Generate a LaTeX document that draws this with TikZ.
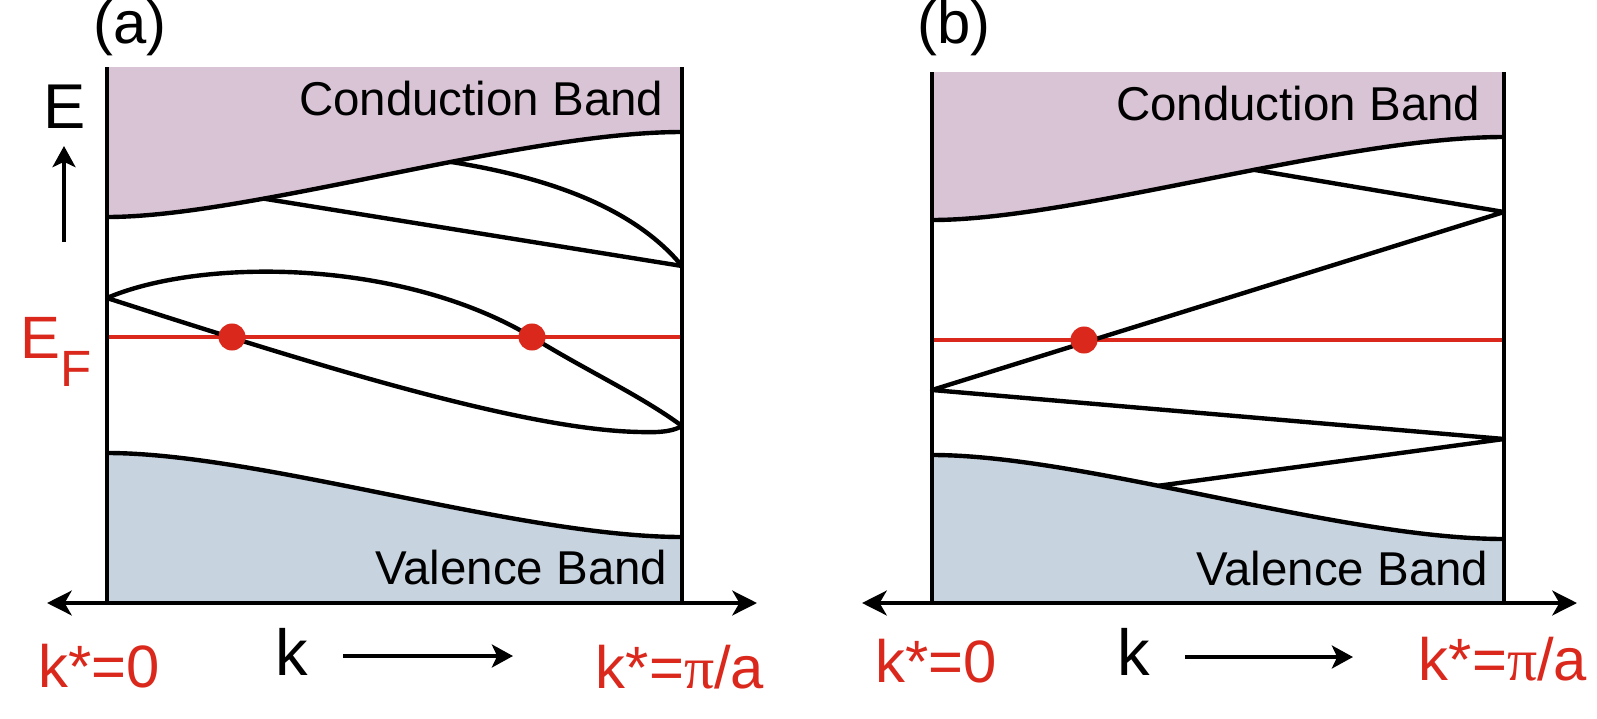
\documentclass[tikz,border=0pt]{standalone}
\usepackage{fontspec}
\setmainfont{Liberation Sans}
\newfontfamily\pifont{Liberation Serif}
\usetikzlibrary{arrows.meta}
\definecolor{condband}{RGB}{217,196,214}
\definecolor{valband}{RGB}{200,211,224}
\definecolor{fermired}{RGB}{218,41,28}

\begin{document}
\begin{tikzpicture}[x=0.01cm,y=-0.01cm,
  band/.style={line width=1.25pt,line join=round},
  fermi/.style={line width=1.2pt,draw=fermired},
  kaxis/.style={line width=1.3pt,{Stealth[length=7pt,width=7pt,inset=2pt]}-{Stealth[length=7pt,width=7pt,inset=2pt]}},
  plain arrow/.style={line width=1.2pt,-{Stealth[length=6pt,width=6.5pt,inset=1.5pt]}},
  bandname/.style={font=\fontsize{13.5}{16}\selectfont,anchor=base east,inner sep=0pt},
  big/.style={font=\fontsize{17}{20}\selectfont,inner sep=0pt},
  redlbl/.style={big,text=fermired,anchor=base},
  fdot/.style={circle,fill=fermired,minimum size=0.27cm,inner sep=0pt}]
\useasboundingbox (0,0) rectangle (1597,718);

% ---------- (a) ----------
\fill[condband] (107,67) -- (107,217) .. controls (250,217) and (520,132) .. (682,132) -- (682,67) -- cycle;
\fill[valband] (107,603) -- (107,453) .. controls (260,453) and (520,537) .. (682,537) -- (682,603) -- cycle;
\draw[band] (107,217) .. controls (250,217) and (520,132) .. (682,132)
  coordinate[pos=0.3] (ca1) coordinate[pos=0.6] (ca2);
\draw[band] (107,453) .. controls (260,453) and (520,537) .. (682,537);
\coordinate (la) at (107,298);
\coordinate (ra1) at (682,266);
\coordinate (ra2) at (682,426);
\draw[fermi] (107,337) -- (682,337);
\draw[band] (ca1) -- (ra1);
\draw[band] (ca2) .. controls (565,180) and (640,215) .. (ra1);
\draw[band] (la) .. controls (200,258) and (400,258) .. (532,337)
  .. controls (585,370) and (640,395) .. (ra2);
\draw[band] (la) .. controls (300,360) and (520,430) .. (640,432)
  .. controls (665,433) and (675,430) .. (ra2);
\node[fdot] (fa1) at (232,337) {};
\node[fdot] (fa2) at (532,337) {};
\draw[band] (107,67) -- (107,603);
\draw[band] (682,67) -- (682,603);
\draw[kaxis] (47,603) -- (757,603);
\node[bandname] (cba) at (664,115) {Conduction Band};
\node[bandname] (vba) at (668,584) {Valence Band};
\node[big] (taga) at (130,28) {(a)};
\node[big,anchor=base,font=\fontsize{18}{20}\selectfont] (ea) at (65,128) {E};
\coordinate (eat) at (64,146);
\coordinate (eab) at (64,242);
\draw[plain arrow] (eab) -- (eat);
\node[redlbl,anchor=base west] (efa) at (20,358) {E\raisebox{-8pt}{\fontsize{14.5}{14.5}\selectfont F}};
\node[redlbl] (k0a) at (99,687) {k*=0};
\node[big,anchor=base,font=\fontsize{18.5}{20}\selectfont] (ka) at (292,675) {k};
\coordinate (kal) at (343,656);
\coordinate (kar) at (513,656);
\draw[plain arrow] (kal) -- (kar);
\node[redlbl] (kpa) at (680,688) {k*={\pifont π}/a};

% ---------- (b) ----------
\fill[condband] (932,72) -- (932,220) .. controls (1075,220) and (1340,137) .. (1504,137) -- (1504,72) -- cycle;
\fill[valband] (932,603) -- (932,455) .. controls (1085,455) and (1340,539) .. (1504,539) -- (1504,603) -- cycle;
\draw[band] (932,220) .. controls (1075,220) and (1340,137) .. (1504,137)
  coordinate[pos=0.57] (cb1);
\draw[band] (932,455) .. controls (1085,455) and (1340,539) .. (1504,539)
  coordinate[pos=0.41] (vb1);
\coordinate (rb1) at (1504,212);
\coordinate (lb1) at (932,390);
\coordinate (rb2) at (1504,439);
\draw[fermi] (932,340) -- (1504,340);
\draw[band] (cb1) -- (rb1) -- (lb1) -- (rb2) -- (vb1);
\node[fdot] (fb1) at (1084,340) {};
\draw[band] (932,72) -- (932,603);
\draw[band] (1504,72) -- (1504,603);
\draw[kaxis] (862,603) -- (1577,603);
\node[bandname] (cbb) at (1481,120) {Conduction Band};
\node[bandname] (vbb) at (1489,585) {Valence Band};
\node[big] (tagb) at (954,28) {(b)};
\node[redlbl] (k0b) at (936,682) {k*=0};
\node[big,anchor=base,font=\fontsize{18.5}{20}\selectfont] (kb) at (1134,675) {k};
\coordinate (kbl) at (1185,657);
\coordinate (kbr) at (1353,657);
\draw[plain arrow] (kbl) -- (kbr);
\node[redlbl] (kpb) at (1503,680) {k*={\pifont π}/a};
\end{tikzpicture}
\end{document}
